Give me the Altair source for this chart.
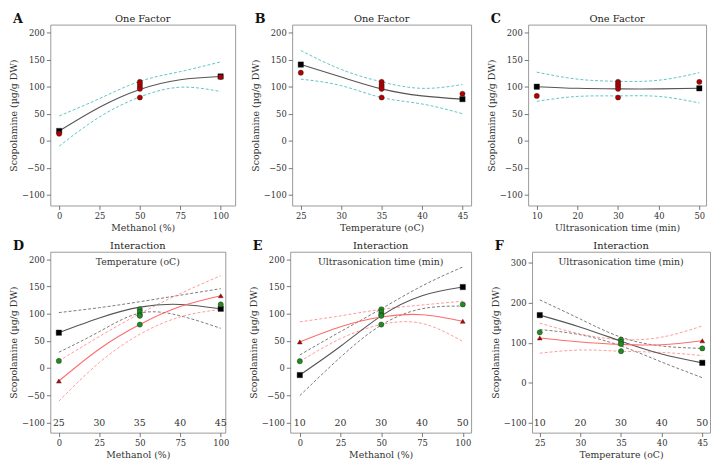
import altair as alt
import pandas as pd

FONT = "DejaVu Serif"
YTITLE = "Scopolamine (µg/g DW)"

# ---------------- data ----------------
# Panel A: One factor, Methanol
A_X = [0, 25, 50, 75, 100]
A_FIT = [18, 62, 95, 113, 119]
A_UP = [46, 78, 110, 128, 146]
A_LO = [-10, 44, 81, 99, 91]
A_RED_X = [0, 50, 50, 50, 50, 50, 100]
A_RED_Y = [13, 109, 105, 100, 96, 80, 118]
A_BLK_X = [0, 100]
A_BLK_Y = [18, 119]

# Panel B: One factor, Temperature
B_X = [25, 30, 35, 40, 45]
B_FIT = [141, 118, 96, 83, 77]
B_UP = [167, 132, 109, 97, 104]
B_LO = [114, 102, 80, 68, 50]
B_RED_X = [25, 35, 35, 35, 35, 35, 45]
B_RED_Y = [126, 109, 104, 100, 96, 80, 87]
B_BLK_X = [25, 45]
B_BLK_Y = [141, 77]

# Panel C: One factor, Ultrasonication time
C_X = [10, 20, 30, 40, 50]
C_FIT = [100, 97, 96, 96, 97]
C_UP = [127, 114, 110, 112, 126]
C_LO = [73, 82, 83, 82, 70]
C_RED_X = [10, 30, 30, 30, 30, 30, 50]
C_RED_Y = [83, 109, 105, 101, 96, 80, 109]
C_BLK_X = [10, 50]
C_BLK_Y = [100, 97]

# Panel D: Interaction Methanol x Temperature
D_X = [0, 25, 50, 75, 100]
D_FIT_K = [65, 92, 112, 117, 109]
D_UP_K = [102, 111, 122, 134, 146]
D_LO_K = [29, 67, 101, 96, 73]
D_FIT_R = [-24, 35, 80, 113, 133]
D_UP_R = [13, 58, 100, 137, 170]
D_LO_R = [-61, 10, 62, 94, 108]
D_BLK_X = [0, 100]
D_BLK_Y = [65, 109]
D_RED_X = [0, 100]
D_RED_Y = [-24, 133]
D_GRN_X = [0, 50, 50, 50, 50, 50, 100]
D_GRN_Y = [13, 108, 103, 98, 96, 80, 117]
D_SEC = ["25", "30", "35", "40", "45"]

# Panel E: Interaction Methanol x Ultrasonication time
E_X = [0, 25, 50, 75, 100]
E_FIT_K = [-13, 40, 96, 133, 149]
E_UP_K = [24, 67, 109, 151, 186]
E_LO_K = [-51, 20, 79, 109, 114]
E_FIT_R = [48, 76, 94, 98, 86]
E_UP_R = [85, 96, 108, 116, 123]
E_LO_R = [12, 54, 80, 82, 49]
E_BLK_X = [0, 100]
E_BLK_Y = [-13, 149]
E_RED_X = [0, 100]
E_RED_Y = [48, 86]
E_GRN_X = [0, 50, 50, 50, 50, 50, 100]
E_GRN_Y = [12.5, 108, 103, 98, 96, 80, 117]
E_SEC = ["10", "20", "30", "40", "50"]

# Panel F: Interaction Temperature x Ultrasonication time
F_X = [25, 30, 35, 40, 45]
F_FIT_K = [169, 139, 104, 72, 50]
F_UP_K = [207, 159, 114, 92, 86]
F_LO_K = [133, 120, 92, 52, 13]
F_FIT_R = [112, 102, 96, 95, 105]
F_UP_R = [149, 122, 108, 114, 142]
F_LO_R = [74, 82, 79, 76, 68]
F_BLK_X = [25, 45]
F_BLK_Y = [169, 50]
F_RED_X = [25, 45]
F_RED_Y = [112, 105]
F_GRN_X = [25, 35, 35, 35, 35, 45]
F_GRN_Y = [126, 108, 102, 97, 79, 86]
F_SEC = ["10", "20", "30", "40", "50"]

# ---------------- styles ----------------
CYAN = "#5fc4c8"
DARK = "#555555"
DARKD = "#6a6a6a"
RED_L = "#ff6b6b"
RED_D = "#ff8f8f"


def panel(letter, title, xtitle, xdom, xticks, ydom, yticks, width, height,
          curves, points, header=None, sec=None):
    xenc = alt.X("x:Q", scale=alt.Scale(domain=xdom, nice=False, zero=False),
                 axis=alt.Axis(values=xticks, title=xtitle))
    yenc = alt.Y("y:Q", scale=alt.Scale(domain=ydom, nice=False, zero=False),
                 axis=alt.Axis(values=yticks, title=YTITLE))
    layers = []
    for xs, ys, color, dashed, sw in curves:
        df = pd.DataFrame({"x": xs, "y": ys})
        kw = dict(color=color, strokeWidth=sw, interpolate="natural")
        if dashed:
            kw["strokeDash"] = [3, 2]
        layers.append(alt.Chart(df).mark_line(**kw).encode(x=xenc, y=yenc))
    for xs, ys, shape, color, size in points:
        df = pd.DataFrame({"x": xs, "y": ys})
        layers.append(alt.Chart(df).mark_point(shape=shape, filled=True, color=color,
                                               size=size, opacity=1,
                                               stroke="#222", strokeWidth=0.4)
                      .encode(x=xenc, y=yenc))
    if sec is not None:
        sdf = pd.DataFrame({"x": xticks, "lab": sec})
        layers.append(alt.Chart(sdf).mark_text(font=FONT, fontSize=9.5, color="#333",
                                              baseline="middle")
                      .encode(x=xenc, y=alt.value(height - 10), text="lab:N"))
    if header is not None:
        hdf = pd.DataFrame({"t": [header]})
        layers.append(alt.Chart(hdf).mark_text(font=FONT, fontSize=9.5, color="#333",
                                              baseline="middle")
                      .encode(x=alt.value(width / 2), y=alt.value(10), text="t:N"))
    tdf = pd.DataFrame({"t": [title]})
    layers.append(alt.Chart(tdf).mark_text(font=FONT, fontSize=10, color="#222",
                                          baseline="alphabetic")
                  .encode(x=alt.value(width / 2), y=alt.value(-3), text="t:N"))
    ldf = pd.DataFrame({"t": [letter]})
    layers.append(alt.Chart(ldf).mark_text(font=FONT, fontSize=13, fontWeight="bold",
                                          color="#111", align="left", baseline="alphabetic")
                  .encode(x=alt.value(-38), y=alt.value(-2), text="t:N"))
    return alt.layer(*layers).properties(width=width, height=height)


Y1 = [-100, -50, 0, 50, 100, 150, 200]
Y3 = [-100, 0, 100, 200, 300]
H = 184


def one_factor(xs, fit, up, lo):
    return [(xs, up, CYAN, True, 1), (xs, lo, CYAN, True, 1), (xs, fit, DARK, False, 1.1)]


def interaction(xs, fk, uk, lk, fr, ur, lr):
    return [(xs, uk, DARKD, True, 0.9), (xs, lk, DARKD, True, 0.9),
            (xs, ur, RED_D, True, 0.9), (xs, lr, RED_D, True, 0.9),
            (xs, fk, DARK, False, 1.1), (xs, fr, RED_L, False, 1.1)]


pA = panel("A", "One Factor", "Methanol (%)", [-5.5, 109], [0, 25, 50, 75, 100],
           [-120, 215], Y1, 188, H, one_factor(A_X, A_FIT, A_UP, A_LO),
           [(A_BLK_X, A_BLK_Y, "square", "#000000", 30),
            (A_RED_X, A_RED_Y, "circle", "#b00000", 28)])
pB = panel("B", "One Factor", "Temperature (oC)", [23.93, 46.07], [25, 30, 35, 40, 45],
           [-120, 215], Y1, 182, H, one_factor(B_X, B_FIT, B_UP, B_LO),
           [(B_BLK_X, B_BLK_Y, "square", "#000000", 30),
            (B_RED_X, B_RED_Y, "circle", "#b00000", 28)])
pC = panel("C", "One Factor", "Ultrasonication time (min)", [7.87, 51.66], [10, 20, 30, 40, 50],
           [-120, 215], Y1, 181, H, one_factor(C_X, C_FIT, C_UP, C_LO),
           [(C_BLK_X, C_BLK_Y, "square", "#000000", 30),
            (C_RED_X, C_RED_Y, "circle", "#b00000", 28)])

pD = panel("D", "Interaction", "Methanol (%)", [-5.3, 102.8], [0, 25, 50, 75, 100],
           [-119, 214], Y1, 178, H,
           interaction(D_X, D_FIT_K, D_UP_K, D_LO_K, D_FIT_R, D_UP_R, D_LO_R),
           [(D_BLK_X, D_BLK_Y, "square", "#000000", 30),
            (D_RED_X, D_RED_Y, "triangle-up", "#c00000", 24),
            (D_GRN_X, D_GRN_Y, "circle", "#1e8c1e", 28)],
           header="Temperature (oC)", sec=D_SEC)
pE = panel("E", "Interaction", "Methanol (%)", [-5.9, 105.1], [0, 25, 50, 75, 100],
           [-119, 214], Y1, 184, H,
           interaction(E_X, E_FIT_K, E_UP_K, E_LO_K, E_FIT_R, E_UP_R, E_LO_R),
           [(E_BLK_X, E_BLK_Y, "square", "#000000", 30),
            (E_RED_X, E_RED_Y, "triangle-up", "#c00000", 24),
            (E_GRN_X, E_GRN_Y, "circle", "#1e8c1e", 28)],
           header="Ultrasonication time (min)", sec=E_SEC)
pF = panel("F", "Interaction", "Temperature (oC)", [24.05, 45.95], [25, 30, 35, 40, 45],
           [-124, 327], Y3, 181, H,
           interaction(F_X, F_FIT_K, F_UP_K, F_LO_K, F_FIT_R, F_UP_R, F_LO_R),
           [(F_BLK_X, F_BLK_Y, "square", "#000000", 30),
            (F_RED_X, F_RED_Y, "triangle-up", "#c00000", 24),
            (F_GRN_X, F_GRN_Y, "circle", "#1e8c1e", 28)],
           header="Ultrasonication time (min)", sec=F_SEC)

row1 = alt.hconcat(pA, pB, pC, spacing=14)
row2 = alt.hconcat(pD, pE, pF, spacing=18)

chart = alt.vconcat(row1, row2, spacing=6).properties(
    padding={"left": 0, "top": 0, "right": 0, "bottom": 0}
).configure_view(
    stroke="#999999", strokeWidth=1
).configure_axis(
    grid=False, domain=False, tickColor="#555", tickSize=4, tickWidth=0.8,
    labelFont=FONT, labelFontSize=8.5, labelColor="#333", labelPadding=2,
    titleFont=FONT, titleFontSize=9.5, titleFontWeight="normal", titleColor="#333",
    titlePadding=3
)

chart.save("out.html", embed_options={"renderer": "svg", "actions": False})
